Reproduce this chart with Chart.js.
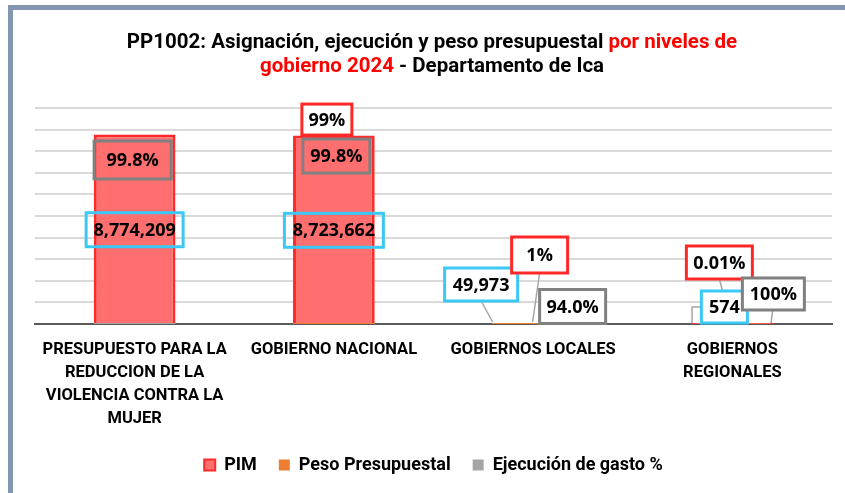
<!DOCTYPE html>
<html><head><meta charset="utf-8">
<script src="https://cdn.jsdelivr.net/npm/chart.js@4"></script>
<style>
html,body{margin:0;padding:0;background:#fff;}
#wrap{position:relative;width:845px;height:493px;overflow:hidden;background:#fff;}
#frame{position:absolute;left:8px;top:5px;width:900px;height:600px;border-left:5px solid #8497b0;border-top:5px solid #8497b0;box-sizing:border-box;}
canvas{position:absolute;left:0;top:0;}
</style></head><body>
<div id="wrap"><div id="frame"></div><canvas id="c" width="845" height="493"></canvas></div>
<script>
// ---- data ----
const categories = [["PRESUPUESTO PARA LA","REDUCCION DE LA","VIOLENCIA CONTRA LA","MUJER"],"GOBIERNO NACIONAL","GOBIERNOS LOCALES",["GOBIERNOS","REGIONALES"]];
const pim = [8774209, 8723662, 49973, 574];
const pesoPresupuestal = [null, 99, 1, 0.01];
const ejecucionGasto = [99.8, 99.8, 94.0, 100];
const yMin = 0, yMax = 10000000, yStep = 1000000;
const titleLines = [
  [{t:"PP1002: Asignación, ejecución y peso presupuestal ", c:"#000000"},{t:"por niveles de", c:"#FF0000"}],
  [{t:"gobierno 2024", c:"#FF0000"},{t:" - Departamento de Ica", c:"#000000"}]
];

// ---- label layout (relative to each PIM bar) ----
const labelLayout = {
  pim: [
    {ref:'mid', dx:0, dy:1, w:97, h:34, fill:null},
    {ref:'mid', dx:0, dy:1, w:99, h:34, fill:null},
    {ref:'base', dx:-52, dy:-38.5, w:73, h:33, fill:'#fff', leader:[[-52,-22],[-40.5,-1]]},
    {ref:'base', dx:-8, dy:-16, w:46, h:32, fill:'#fff', leader:[[-31,-16],[-40.3,-16],[-40.3,0]]}
  ],
  peso: [
    null,
    {ref:'top', dx:-7, dy:-16, w:50, h:31, fill:'#fff'},
    {ref:'base', dx:6.5, dy:-68, w:56, h:36, fill:'#fff', leader:[[6.5,-50],[-0.5,-1]]},
    {ref:'base', dx:-13, dy:-60.5, w:66, h:33, fill:'#fff', leader:[[-13,-44],[-1.5,0]]}
  ],
  ejec: [
    {ref:'top', dx:-2, dy:25.5, w:77, h:38, fill:null},
    {ref:'top', dx:2.5, dy:20.5, w:67, h:34, fill:null},
    {ref:'base', dx:39.5, dy:-16.5, w:66, h:34, fill:'#fff'},
    {ref:'base', dx:41, dy:-29, w:62, h:32, fill:'#fff', leader:[[40.3,-13],[38.7,0]]}
  ]
};
const boxColors = {pim:'#3CC8F5', peso:'#FF2828', ejec:'#808080'};
const fmt = {
  pim: v => v.toLocaleString('en-US'),
  peso: v => v + '%',
  ejec: v => (v === 100 ? '100' : v.toFixed(1)) + '%'
};
const series = {pim: pim, peso: pesoPresupuestal, ejec: ejecucionGasto};

const titlePlugin = {
  id:'titlePlugin',
  afterDraw(chart){
    const ctx = chart.ctx;
    ctx.save();
    ctx.font = 'bold 20.5px Roboto';
    ctx.textBaseline = 'middle';
    ctx.textAlign = 'left';
    const cx = 432, ys = [43, 67];
    titleLines.forEach((segs, i) => {
      const total = segs.reduce((s, g) => s + ctx.measureText(g.t).width, 0);
      let x = cx - total / 2;
      segs.forEach(g => { ctx.fillStyle = g.c; ctx.fillText(g.t, x, ys[i]); x += ctx.measureText(g.t).width; });
    });
    ctx.restore();
  }
};

const labelPlugin = {
  id:'labelPlugin',
  afterDatasetsDraw(chart){
    const ctx = chart.ctx;
    const bars = chart.getDatasetMeta(0).data;
    const anchor = (i, ref) => {
      const b = bars[i];
      if (ref === 'top') return b.y;
      if (ref === 'base') return b.base;
      return (b.y + b.base) / 2;
    };
    ctx.save();
    ctx.strokeStyle = '#A6A6A6'; ctx.lineWidth = 1.5;
    ['pim','peso','ejec'].forEach(k => {
      labelLayout[k].forEach((L, i) => {
        if (!L || !L.leader || series[k][i] == null) return;
        const bx = bars[i].x, by = anchor(i, L.ref);
        ctx.beginPath();
        L.leader.forEach((p, j) => { const X = bx + p[0], Y = by + p[1]; j ? ctx.lineTo(X, Y) : ctx.moveTo(X, Y); });
        ctx.stroke();
      });
    });
    ctx.font = 'bold 18px "Open Sans"';
    ctx.textAlign = 'center'; ctx.textBaseline = 'middle';
    ['pim','peso','ejec'].forEach(k => {
      labelLayout[k].forEach((L, i) => {
        const v = series[k][i];
        if (!L || v == null) return;
        const cx = bars[i].x + L.dx, cy = anchor(i, L.ref) + L.dy;
        const x0 = cx - L.w / 2, y0 = cy - L.h / 2;
        if (L.fill) { ctx.fillStyle = L.fill; ctx.fillRect(x0, y0, L.w, L.h); }
        ctx.strokeStyle = boxColors[k]; ctx.lineWidth = 3;
        ctx.strokeRect(x0, y0, L.w, L.h);
        ctx.fillStyle = '#000';
        ctx.fillText(fmt[k](v), cx, cy + 1);
      });
    });
    ctx.restore();
  }
};

new Chart(document.getElementById('c'), {
  type:'bar',
  data:{
    labels: categories,
    datasets:[
      {label:'PIM', data:pim, backgroundColor:'#FF6F6F', borderColor:'#FF2A2A', borderWidth:3, grouped:false, order:1},
      {label:'Peso Presupuestal', data:pesoPresupuestal, backgroundColor:'#ED7D31', borderWidth:0, grouped:false, order:2},
      {label:'Ejecución de gasto %', data:ejecucionGasto, backgroundColor:'#A5A5A5', borderWidth:0, grouped:false, order:3}
    ]
  },
  options:{
    responsive:false, animation:false,
    layout:{padding:{top:108, left:35, right:13, bottom:9}},
    datasets:{bar:{categoryPercentage:1, barPercentage:0.41}},
    plugins:{
      title:{display:false}, tooltip:{enabled:false},
      legend:{
        position:'bottom',
        labels:{
          font:{family:'Roboto', size:18, weight:'bold'}, color:'#000',
          boxWidth:11, boxHeight:11, padding:22,
          generateLabels(chart){
            return chart.data.datasets.map((d, i) => ({
              text:d.label, fillStyle:d.backgroundColor, strokeStyle:d.borderColor || d.backgroundColor,
              lineWidth: i === 0 ? 2 : 0, datasetIndex:i, hidden:false, fontColor:'#000'
            }));
          }
        }
      }
    },
    scales:{
      x:{
        grid:{display:false, drawTicks:false},
        border:{display:true, color:'#595959', width:2},
        ticks:{font:{family:'Roboto', size:16.5, weight:'bold', lineHeight:'23px'}, color:'#000', padding:14.5, maxRotation:0, minRotation:0, autoSkip:false},
        afterFit(s){ s.height = 110; }
      },
      y:{
        min:yMin, max:yMax,
        ticks:{display:false, stepSize:yStep},
        grid:{color:'#D9D9D9', lineWidth:2, drawTicks:false},
        border:{display:false},
        afterFit(s){ s.width = 0; }
      }
    }
  },
  plugins:[titlePlugin, labelPlugin]
});
</script>
</body></html>
